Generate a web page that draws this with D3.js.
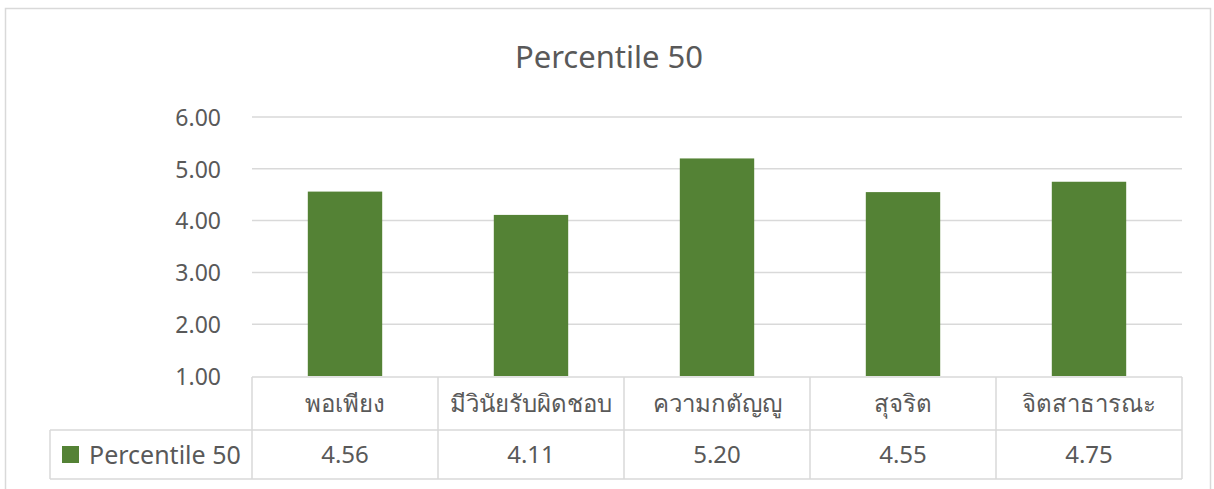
<!DOCTYPE html>
<html>
<head>
<meta charset="utf-8">
<script src="https://cdn.jsdelivr.net/npm/d3@7"></script>
<style>
  body { margin: 0; background: #fff; }
  svg text { font-family: "Noto Sans", "Open Sans", sans-serif; fill: #595959; }
</style>
</head>
<body>
<svg id="chart"></svg>
<script>
// data
var categories = ["พอเพียง", "มีวินัยรับผิดชอบ", "ความกตัญญู", "สุจริต", "จิตสาธารณะ"];
var values = [4.56, 4.11, 5.20, 4.55, 4.75];
var seriesName = "Percentile 50";
var yTicks = [1, 2, 3, 4, 5, 6];

var W = 1214, H = 489;
var svg = d3.select("#chart").attr("width", W).attr("height", H);

// outer chart border
svg.append("rect")
  .attr("x", 5.5).attr("y", 8.5)
  .attr("width", 1205).attr("height", 490)
  .attr("fill", "#fff").attr("stroke", "#d9d9d9").attr("stroke-width", 1.5);

// plot area
var plot = {left: 252, right: 1182, top: 117, bottom: 376};

var x = d3.scaleBand()
  .domain(categories)
  .range([plot.left, plot.right])
  .paddingInner(0.6).paddingOuter(0.3);

var y = d3.scaleLinear()
  .domain([1, 6])
  .range([plot.bottom, plot.top]);

// title
svg.append("text")
  .attr("x", 609).attr("y", 68)
  .attr("text-anchor", "middle")
  .style("font-size", "31px")
  .text(seriesName);

// gridlines
svg.append("g")
  .selectAll("line")
  .data(yTicks.filter(function(d) { return d > 1; }))
  .enter().append("line")
  .attr("x1", plot.left).attr("x2", plot.right)
  .attr("y1", function(d) { return y(d); })
  .attr("y2", function(d) { return y(d); })
  .attr("stroke", "#d9d9d9").attr("stroke-width", 1.5);

// y labels
var yAxis = d3.axisLeft(y).tickValues(yTicks).tickFormat(d3.format(".2f")).tickSize(0).tickPadding(0);
var yg = svg.append("g").attr("transform", "translate(221,0)").call(yAxis);
yg.select(".domain").remove();
yg.selectAll("text")
  .attr("dy", "0.36em")
  .style("font-size", "23px")
  .attr("fill", "#595959");

// bars
svg.append("g")
  .selectAll("rect")
  .data(values)
  .enter().append("rect")
  .attr("x", function(d, i) { return x(categories[i]); })
  .attr("width", x.bandwidth())
  .attr("y", function(d) { return y(d); })
  .attr("height", function(d) { return y(1) - y(d); })
  .attr("fill", "#548235");

// data table
var row1Top = 377, row2Top = 430, tableBottom = 479, legendLeft = 50;
var step = x.step();
var colEdges = categories.map(function(c) { return x(c) - (step - x.bandwidth()) / 2; });
colEdges.push(plot.right);

var table = svg.append("g").attr("stroke", "#d9d9d9").attr("stroke-width", 1.5);
table.append("line").attr("x1", plot.left).attr("x2", plot.right).attr("y1", row1Top).attr("y2", row1Top);
table.append("line").attr("x1", legendLeft).attr("x2", plot.right).attr("y1", row2Top).attr("y2", row2Top);
table.append("line").attr("x1", legendLeft).attr("x2", plot.right).attr("y1", tableBottom).attr("y2", tableBottom);
table.append("line").attr("x1", legendLeft).attr("x2", legendLeft).attr("y1", row2Top).attr("y2", tableBottom);
table.selectAll(".col")
  .data(colEdges)
  .enter().append("line")
  .attr("x1", function(d) { return d; }).attr("x2", function(d) { return d; })
  .attr("y1", row1Top).attr("y2", tableBottom);

// category labels
svg.append("g")
  .selectAll("text")
  .data(categories)
  .enter().append("text")
  .attr("x", function(d) { return x(d) + x.bandwidth() / 2; })
  .attr("y", (row1Top + row2Top) / 2)
  .attr("dy", "0.36em")
  .attr("text-anchor", "middle")
  .style("font-size", "24px")
  .text(function(d) { return d; });

// values row
svg.append("g")
  .selectAll("text")
  .data(values)
  .enter().append("text")
  .attr("x", function(d, i) { return x(categories[i]) + x.bandwidth() / 2; })
  .attr("y", (row2Top + tableBottom) / 2)
  .attr("dy", "0.36em")
  .attr("text-anchor", "middle")
  .style("font-size", "24px")
  .text(function(d) { return d3.format(".2f")(d); });

// legend key
svg.append("rect")
  .attr("x", 62).attr("y", 446).attr("width", 17).attr("height", 17)
  .attr("fill", "#548235");
svg.append("text")
  .attr("x", 89).attr("y", (row2Top + tableBottom) / 2)
  .attr("dy", "0.36em")
  .style("font-size", "25px")
  .text(seriesName);
</script>
</body>
</html>
